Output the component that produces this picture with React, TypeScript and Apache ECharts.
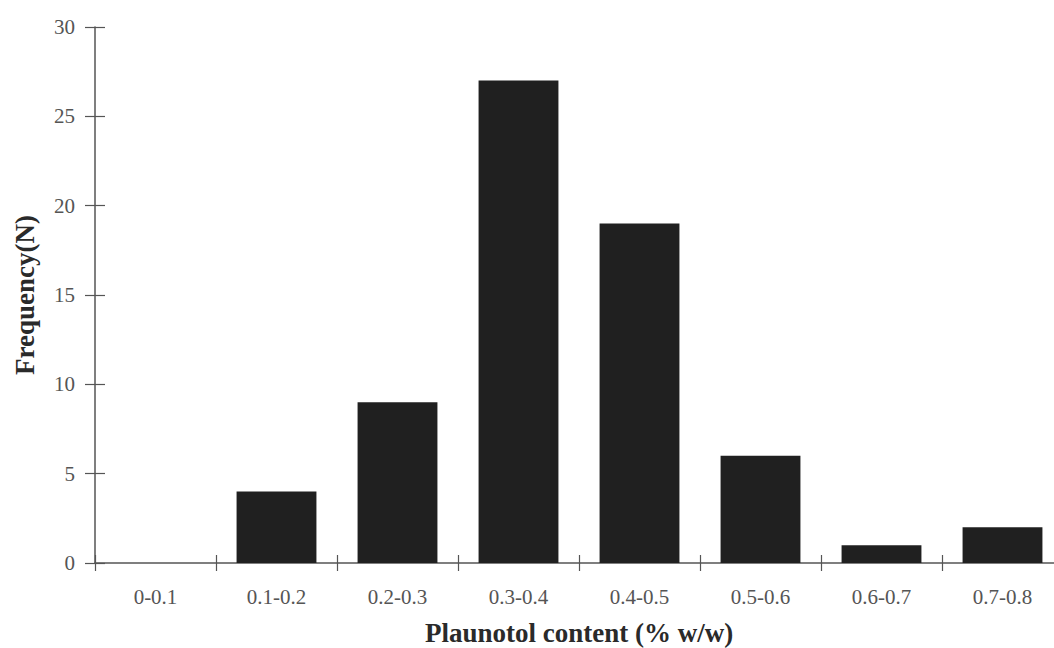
import React, { useEffect, useRef } from "react";
import * as echarts from "echarts";

const categories = ["0-0.1", "0.1-0.2", "0.2-0.3", "0.3-0.4", "0.4-0.5", "0.5-0.6", "0.6-0.7", "0.7-0.8"];
const frequency = [0, 4, 9, 27, 19, 6, 1, 2];
const yTicks = { min: 0, max: 30, interval: 5 };

const FONT = "'Liberation Serif', 'Times New Roman', serif";
const AXIS = "#555555";

export default function App() {
  const ref = useRef<HTMLDivElement>(null);
  useEffect(() => {
    if (!ref.current) return;
    const chart = echarts.init(ref.current, null, { renderer: "svg" });
    const baseX = {
      type: "category",
      data: categories,
      position: "bottom",
      boundaryGap: true,
      axisLine: { show: true, lineStyle: { color: AXIS, width: 1.5 } },
    };
    const baseY = {
      type: "value",
      min: yTicks.min,
      max: yTicks.max,
      interval: yTicks.interval,
      position: "left",
      splitLine: { show: false },
      axisLine: { show: true, lineStyle: { color: AXIS, width: 1.5 } },
    };
    chart.setOption({
      animation: false,
      backgroundColor: "#ffffff",
      grid: { left: 95, right: -9, top: 27, bottom: 85, containLabel: false, outerBoundsMode: "none" },
      xAxis: [
        {
          ...baseX,
          axisTick: { show: true, inside: false, length: 8, lineStyle: { color: AXIS, width: 1.2 } },
          axisLabel: { color: "#555", fontFamily: FONT, fontSize: 21, margin: 23 },
          name: "Plaunotol content (% w/w)",
          nameLocation: "middle",
          nameGap: 56,
          nameTextStyle: { color: "#2a2a2a", fontFamily: FONT, fontSize: 27, fontWeight: "bold" },
        },
        {
          ...baseX,
          axisLine: { show: false },
          axisTick: { show: true, inside: true, length: 8, lineStyle: { color: AXIS, width: 1.2 } },
          axisLabel: { show: false },
        },
      ],
      yAxis: [
        {
          ...baseY,
          axisTick: { show: true, inside: false, length: 10, lineStyle: { color: AXIS, width: 1.2 } },
          axisLabel: { color: "#555", fontFamily: FONT, fontSize: 21, margin: 20 },
          name: "Frequency(N)",
          nameLocation: "middle",
          nameGap: 57,
          nameRotate: 90,
          nameTextStyle: { color: "#2a2a2a", fontFamily: FONT, fontSize: 27, fontWeight: "bold" },
        },
        {
          ...baseY,
          axisLine: { show: false },
          axisTick: { show: true, inside: true, length: 10, lineStyle: { color: AXIS, width: 1.2 } },
          axisLabel: { show: false },
        },
      ],
      series: [
        {
          type: "bar",
          xAxisIndex: 0,
          yAxisIndex: 0,
          data: frequency,
          barCategoryGap: "34%",
          itemStyle: { color: "#202020" },
        },
      ],
    });
    return () => chart.dispose();
  }, []);
  return (
    <div
      ref={ref}
      style={{ position: "absolute", left: 0, top: 0, width: 1054, height: 648, background: "#fff" }}
    />
  );
}
